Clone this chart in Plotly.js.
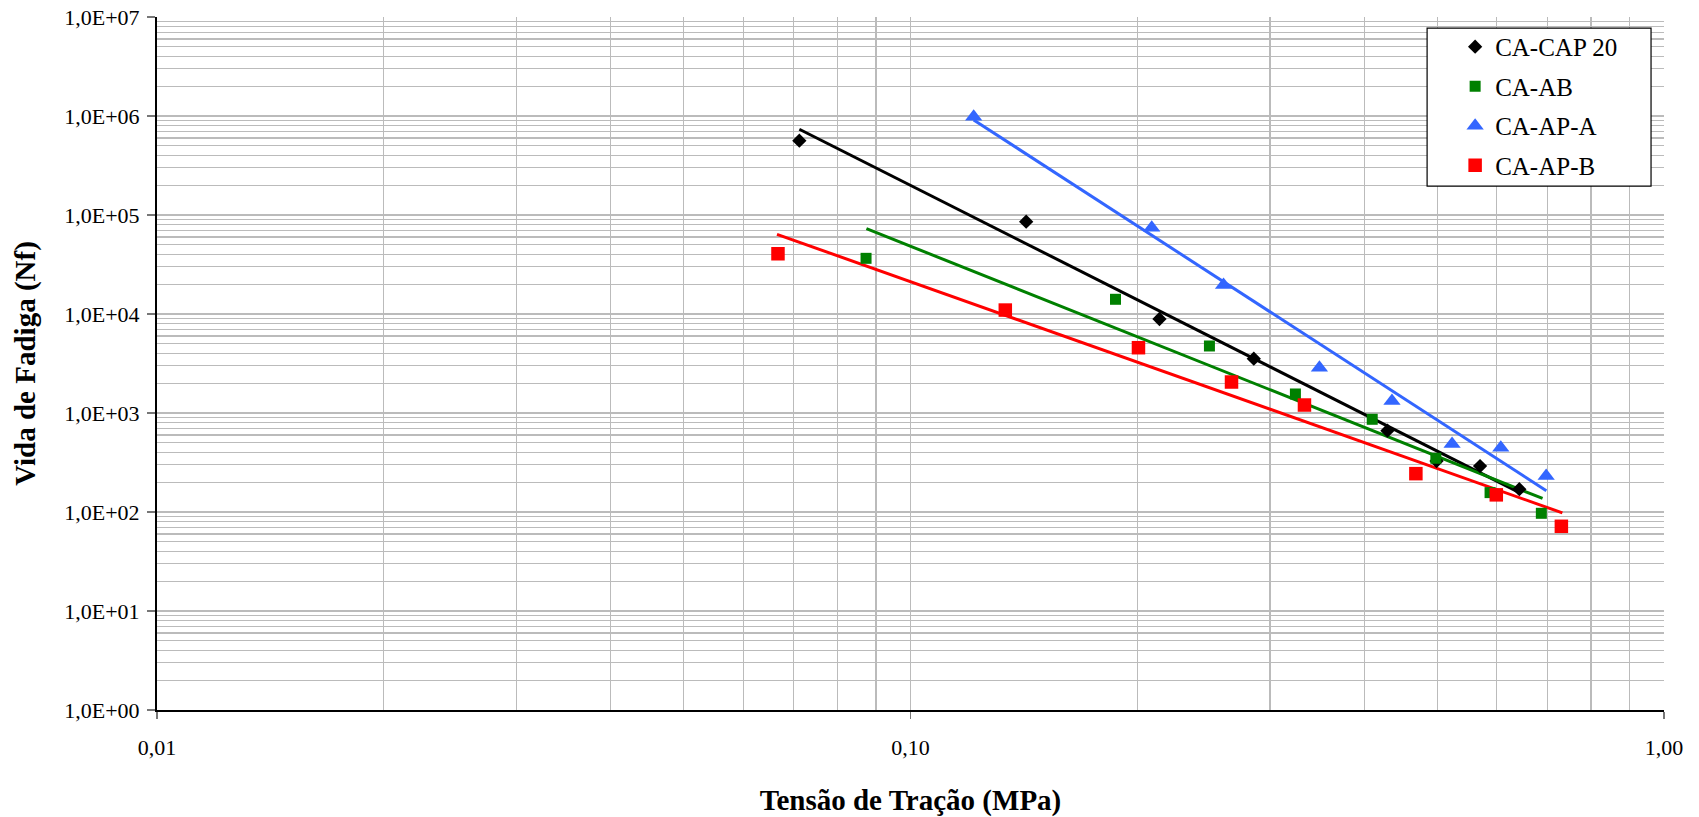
<!DOCTYPE html>
<html>
<head>
<meta charset="utf-8">
<script src="https://cdn.plot.ly/plotly-3.0.1.min.js"></script>
<style>html,body{margin:0;padding:0;background:#fff;}#chart{width:1699px;height:817px;}</style>
</head>
<body>
<div id="chart"></div>
<script>
// Series names
const seriesNames = ["CA-CAP 20", "CA-AB", "CA-AP-A", "CA-AP-B"];

// Measured points (tensile stress in MPa, fatigue life Nf)
const capX = [0.0712, 0.1424, 0.214, 0.2855, 0.4295, 0.499, 0.570, 0.6427];
const capY = [563000, 85600, 8900, 3536, 663, 327, 291, 170];

const abX = [0.0873, 0.1871, 0.2493, 0.3242, 0.410, 0.498, 0.5877, 0.6874];
const abY = [36500, 14080, 4752, 1556, 864, 349, 157, 97];

const apaX = [0.1213, 0.209, 0.2603, 0.3489, 0.4355, 0.5233, 0.6073, 0.6976];
const apaY = [985000, 74400, 19600, 2868, 1322, 486, 446, 231];

const apbX = [0.0667, 0.1336, 0.2007, 0.2667, 0.3333, 0.4685, 0.599, 0.7308];
const apbY = [40600, 10960, 4566, 2056, 1204, 244, 149, 71.7];

// Fitted power-law trend lines (end points)
const capFitX = [0.0712, 0.646];
const capFitY = [735000, 154];
const abFitX = [0.0874, 0.690];
const abFitY = [72800, 137];
const apaFitX = [0.1213, 0.698];
const apaFitY = [912000, 164];
const apbFitX = [0.0665, 0.733];
const apbFitY = [63800, 98];

// Tick labels
const xTickVals = [0.01, 0.1, 1];
const xTickText = ["0,01", "0,10", "1,00"];
const yTickVals = [1, 10, 100, 1000, 10000, 100000, 1000000, 10000000];
const yTickText = ["1,0E+00", "1,0E+01", "1,0E+02", "1,0E+03", "1,0E+04", "1,0E+05", "1,0E+06", "1,0E+07"];

const colors = ["#000000", "#008000", "#3366FF", "#FF0000"];
const font = "Liberation Serif";

function minorVals(lo, hi) {
  const v = [];
  for (let d = lo; d < hi; d++) for (let k = 2; k <= 9; k++) v.push(k * Math.pow(10, d));
  return v;
}

const fitLine = (x, y, c) => ({x: x, y: y, mode: "lines", type: "scatter", showlegend: false, hoverinfo: "skip",
  line: {color: c, width: 3}});

const traces = [
  fitLine(capFitX, capFitY, colors[0]),
  fitLine(abFitX, abFitY, colors[1]),
  fitLine(apaFitX, apaFitY, colors[2]),
  fitLine(apbFitX, apbFitY, colors[3]),
  {x: capX, y: capY, name: seriesNames[0], mode: "markers", type: "scatter", legendgroup: "a",
   marker: {symbol: "diamond", size: 11, color: colors[0]}},
  {x: abX, y: abY, name: seriesNames[1], mode: "markers", type: "scatter", legendgroup: "b",
   marker: {symbol: "square", size: 11, color: colors[1]}},
  {x: apaX, y: apaY, name: seriesNames[2], mode: "markers", type: "scatter", legendgroup: "c",
   marker: {symbol: "triangle-up", size: 15, color: colors[2]}},
  {x: apbX, y: apbY, name: seriesNames[3], mode: "markers", type: "scatter", legendgroup: "d",
   marker: {symbol: "square", size: 13.5, color: colors[3]}}
];

const layout = {
  width: 1699, height: 817,
  margin: {l: 156.5, r: 35, t: 17, b: 107},
  paper_bgcolor: "#ffffff", plot_bgcolor: "#ffffff",
  font: {family: font, size: 22, color: "#000"},
  showlegend: true,
  xaxis: {
    type: "log", range: [-2, 0],
    tickmode: "array", tickvals: xTickVals, ticktext: xTickText,
    ticks: "outside", ticklen: 7, tickcolor: "#777", tickwidth: 1.5,
    showgrid: true, gridcolor: "#bbbbbb", gridwidth: 1.2,
    minor: {tickmode: "array", tickvals: minorVals(-2, 0), showgrid: true, gridcolor: "#bbbbbb", gridwidth: 1.2, ticks: ""},
    showline: true, linecolor: "#000", linewidth: 2,
    zeroline: false, ticklabelstandoff: 10,
    tickfont: {family: font, size: 22},
    title: {text: "<b>Tensão de Tração (MPa)</b>", font: {family: font, size: 29}, standoff: 30}
  },
  yaxis: {
    type: "log", range: [0, 7],
    tickmode: "array", tickvals: yTickVals, ticktext: yTickText,
    ticks: "outside", ticklen: 8, tickcolor: "#777", tickwidth: 1.5,
    showgrid: true, gridcolor: "#bbbbbb", gridwidth: 1.2,
    minor: {tickmode: "array", tickvals: minorVals(0, 7), showgrid: true, gridcolor: "#bbbbbb", gridwidth: 1.2, ticks: ""},
    showline: true, linecolor: "#000", linewidth: 2,
    zeroline: false, ticklabelstandoff: 3,
    tickfont: {family: font, size: 22},
    title: {text: "<b>Vida de Fadiga (Nf)</b>", font: {family: font, size: 29}, standoff: 20}
  },
  legend: {
    x: 0.8614, y: 0.99, xanchor: "left", yanchor: "top",
    bgcolor: "rgba(0,0,0,0)", borderwidth: 0,
    font: {family: font, size: 25, color: "#000"},
    tracegroupgap: 4, itemwidth: 30
  },
  shapes: [
    {type: "rect", xref: "paper", yref: "paper", x0: 0.8428, x1: 0.9914, y0: 0.756, y1: 0.984,
     line: {color: "#000", width: 1.2}, fillcolor: "#ffffff", layer: "above"}
  ]
};

Plotly.newPlot("chart", traces, layout, {displayModeBar: false, staticPlot: true});
</script>
</body>
</html>
